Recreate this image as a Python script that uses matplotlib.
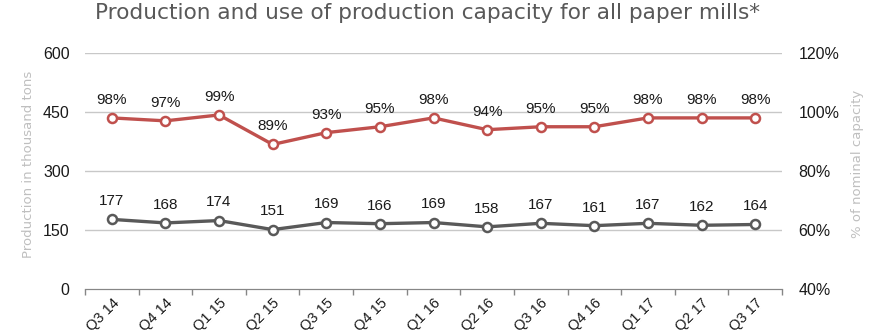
import matplotlib
matplotlib.use("Agg")
import matplotlib.pyplot as plt
import numpy as np

quarters = ["Q3 14", "Q4 14", "Q1 15", "Q2 15", "Q3 15", "Q4 15", "Q1 16",
            "Q2 16", "Q3 16", "Q4 16", "Q1 17", "Q2 17", "Q3 17"]
production = [177, 168, 174, 151, 169, 166, 169, 158, 167, 161, 167, 162, 164]
capacity_use = [98, 97, 99, 89, 93, 95, 98, 94, 95, 95, 98, 98, 98]

left_ticks = [0, 150, 300, 450, 600]
right_ticks = [40, 60, 80, 100, 120]

RED = "#c0504d"
DARK = "#595959"
GRID = "#c8c8c8"
LABEL = "#bfbfbf"
TEXT = "#1a1a1a"
ARIAL = "Liberation Sans"

fig = plt.figure(figsize=(8.76, 3.30), dpi=100)
ax = fig.add_axes([85 / 876, 41 / 330, 697 / 876, 236 / 330])
ax2 = ax.twinx()

x = np.arange(len(quarters))

ax.set_ylim(0, 600)
ax.set_yticks(left_ticks)
ax2.set_ylim(40, 120)
ax2.set_yticks(right_ticks)
ax2.set_yticklabels([f"{v}%" for v in right_ticks])
ax.set_xlim(-0.5, len(quarters) - 0.5)

for v in left_ticks[1:]:
    ax.axhline(v, color=GRID, lw=1.0, zorder=0)

ax.plot(x, production, color=DARK, lw=2.4, marker="o", ms=6.5,
        mfc="white", mec=DARK, mew=1.8, zorder=3)
ax2.plot(x, capacity_use, color=RED, lw=2.4, marker="o", ms=6.5,
         mfc="white", mec=RED, mew=1.8, zorder=3)

for xi, v in zip(x, production):
    ax.annotate(f"{v}", (xi, v), xytext=(0, 8), textcoords="offset points",
                ha="center", va="bottom", fontsize=11, color=TEXT,
                family=ARIAL)
for xi, v in zip(x, capacity_use):
    ax2.annotate(f"{v}%", (xi, v), xytext=(0, 8), textcoords="offset points",
                 ha="center", va="bottom", fontsize=11, color=TEXT,
                 family=ARIAL)

# category boundaries as tick marks, labels centred under each quarter
ax.set_xticks(np.arange(-0.5, len(quarters), 1.0), minor=False)
ax.set_xticklabels([])
ax.tick_params(axis="x", length=4, color="#868686", width=1)
ax.set_xticks(x, minor=True)
ax.set_xticklabels(quarters, minor=True, rotation=45, ha="right",
                   rotation_mode="anchor", fontsize=10.5,
                   family=ARIAL, color=TEXT)
ax.tick_params(axis="x", which="minor", length=0, pad=5)

ax.tick_params(axis="y", length=0, labelsize=11.5, pad=11, labelcolor=TEXT)
ax2.tick_params(axis="y", length=0, labelsize=11.5, pad=12, labelcolor=TEXT)
for lbl in ax.get_yticklabels() + ax2.get_yticklabels():
    lbl.set_family(ARIAL)

for a in (ax, ax2):
    for s in ("top", "left", "right"):
        a.spines[s].set_visible(False)
    a.spines["bottom"].set_color("#868686")

ax.set_ylabel("Production in thousand tons", color=LABEL, fontsize=9.5,
              labelpad=6, y=0.53)
ax2.set_ylabel("% of nominal capacity", color=LABEL, fontsize=9.5,
               labelpad=8, y=0.53)

fig.suptitle("Production and use of production capacity for all paper mills*",
             x=0.4875, y=0.99, fontsize=15.6, color=DARK)

fig.savefig("out.png", dpi=100)
